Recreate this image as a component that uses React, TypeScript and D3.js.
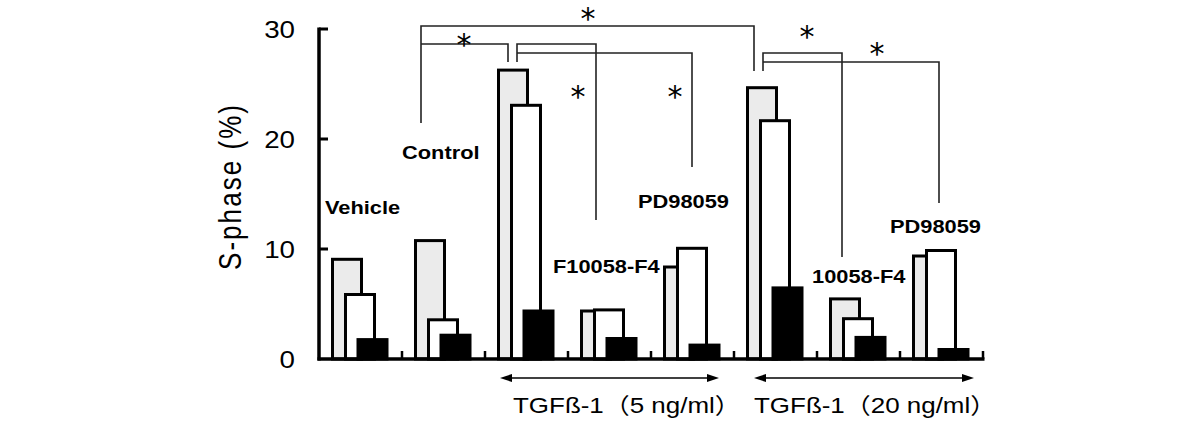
import React from "react";
import * as d3 from "d3";

// ---- data ----
const groups = ["Vehicle", "Control", "TGF5", "F10058-F4 (5)", "PD98059 (5)", "TGF20", "10058-F4 (20)", "PD98059 (20)"];
const seriesGray = [9.2, 10.9, 26.4, 4.5, 8.5, 24.8, 5.6, 9.5];
const seriesWhite = [6.0, 3.7, 23.2, 4.6, 10.2, 21.8, 3.8, 10.0];
const seriesBlack = [1.9, 2.3, 4.5, 2.0, 1.4, 6.6, 2.1, 1.0];
const yTicks = [0, 10, 20, 30];
const yTickLabels = ["0", "10", "20", "30"];
const yTitle = "S-phase (%)";
const groupLabels = ["Vehicle", "Control", "F10058-F4", "PD98059", "10058-F4", "PD98059"];
const groupLabelIndex = [0, 1, 3, 4, 6, 7];
const treatmentLabels = ["TGFß-1（5 ng/ml）", "TGFß-1（20 ng/ml）"];
const star = "*";

// ---- layout ----
const W = 1200, H = 428;
const x0 = 319, x1 = 983, yTop = 29, yBase = 359;
const SX = 1.18;
const ARIAL = "'Liberation Sans', Arial, 'Noto Sans CJK JP', sans-serif";

const xScale = d3.scaleBand<number>().domain(d3.range(groups.length)).range([x0, x1]).paddingInner(0).paddingOuter(0);
const yScale = d3.scaleLinear().domain([0, 30]).range([yBase, yTop]);

const barOffsets = [12, 25, 37.5];
const barW = 32;
const barStroke = 3;
const fills = ["#ebebeb", "#ffffff", "#000000"];

// annotation layout (label offset from band start, baseline value)
const labelPos = [
  { dx: 6, v: 13.2 },
  { dx: 0, v: 18.2 },
  { dx: -15, v: 7.85 },
  { dx: -13, v: 13.75 },
  { dx: -5, v: 6.9 },
  { dx: -10, v: 11.45 },
];

function STxt(props: any) {
  const { x, y, anchor = "start", size, weight = "normal", family = ARIAL, children, len } = props;
  return (
    <text
      transform={`translate(${x},${y}) scale(${SX},1)`}
      textAnchor={anchor}
      fontSize={size}
      fontWeight={weight}
      fontFamily={family}
      fill="#000"
      textLength={len}
      lengthAdjust={len ? "spacing" : undefined}
    >
      {children}
    </text>
  );
}

export default function App() {
  const bx = (i: number) => xScale(i) as number;
  const Y = (v: number) => yScale(v);

  // brackets (significance)
  const bracketStroke = "#222";
  const brackets = [
    `M${bx(1) + 19},${Y(21.45)} V${Y(30.27)} H${bx(5) + 20} V${Y(26.18)}`,
    `M${bx(1) + 19},${Y(28.64)} H${bx(2) + 23} V${Y(27.0)}`,
    `M${bx(2) + 32},${Y(27.0)} V${Y(28.64)} H${bx(3) + 28} V${Y(12.64)}`,
    `M${bx(2) + 32},${Y(27.82)} H${bx(4) + 41} V${Y(17.45)}`,
    `M${bx(5) + 29},${Y(26.18)} V${Y(27.82)} H${bx(6) + 25} V${Y(9.27)}`,
    `M${bx(5) + 29},${Y(27.0)} H${bx(7) + 39} V${Y(14.18)}`,
  ];
  const stars = [
    { x: bx(3) + 20, y: 12 },
    { x: bx(1) + 62, y: 38 },
    { x: bx(3) + 10, y: 90 },
    { x: bx(4) + 24, y: 90 },
    { x: bx(6) - 10, y: 30 },
    { x: bx(7) - 23, y: 47 },
  ];

  const arrows = [
    { a: bx(2) + 15, b: bx(4) + 68, tx: bx(2) + 28 },
    { a: bx(5) + 20, b: bx(7) + 74, tx: bx(5) + 20 },
  ];
  const arrowY = 378;

  const series = [seriesGray, seriesWhite, seriesBlack];

  return (
    <svg width={W} height={H} style={{ position: "absolute", left: 0, top: 0, background: "#fff" }}>
      <rect x={0} y={0} width={W} height={H} fill="#fff" />

      {/* bars */}
      {groups.map((g, i) => (
        <g key={g}>
          {series.map((s, k) => {
            const left = bx(i) + barOffsets[k];
            const top = Y(s[i]);
            return (
              <rect
                key={k}
                x={left + barStroke / 2}
                y={top + barStroke / 2}
                width={barW - barStroke}
                height={yBase - top - barStroke / 2}
                fill={fills[k]}
                stroke="#000"
                strokeWidth={barStroke}
              />
            );
          })}
        </g>
      ))}

      {/* axes */}
      <line x1={x0} x2={x0} y1={yTop - 1.5} y2={yBase + 1.5} stroke="#000" strokeWidth={3.5} />
      <line x1={x0 - 1.5} x2={x1 + 1.5} y1={yBase} y2={yBase} stroke="#000" strokeWidth={3.3} />
      {yTicks.filter((t) => t > 0).map((t) => (
        <line key={t} x1={x0} x2={x0 + 9} y1={Y(t)} y2={Y(t)} stroke="#000" strokeWidth={3} />
      ))}
      {d3.range(1, groups.length + 1).map((i) => {
        const xx = i < groups.length ? bx(i) : x1;
        return <line key={i} x1={xx} x2={xx} y1={yBase} y2={yBase - 8} stroke="#000" strokeWidth={2.5} />;
      })}
      {yTicks.map((t, i) => (
        <STxt key={t} x={295} y={Y(t) + 8.5} anchor="end" size={23.5}>
          {yTickLabels[i]}
        </STxt>
      ))}
      <text
        transform={`translate(241,187.5) scale(${SX},1) rotate(-90)`}
        textAnchor="middle"
        fontSize={26}
        fontFamily={ARIAL}
        textLength={165}
        lengthAdjust="spacing"
      >
        {yTitle}
      </text>

      {/* group labels */}
      {groupLabels.map((lab, j) => (
        <STxt key={j} x={bx(groupLabelIndex[j]) + labelPos[j].dx} y={Y(labelPos[j].v)} size={18.5} weight="bold">
          {lab}
        </STxt>
      ))}

      {/* significance brackets */}
      {brackets.map((d, i) => (
        <path key={i} d={d} fill="none" stroke={bracketStroke} strokeWidth={1.6} />
      ))}
      {stars.map((s, i) => (
        <text key={i} x={s.x} y={s.y + 17} textAnchor="middle" fontSize={30} fontFamily="'DejaVu Sans', sans-serif" fill="#000">
          {star}
        </text>
      ))}

      {/* treatment arrows */}
      {arrows.map((a, i) => (
        <g key={i}>
          <line x1={a.a + 6} x2={a.b - 6} y1={arrowY} y2={arrowY} stroke="#000" strokeWidth={1.5} />
          <polygon points={`${a.a},${arrowY} ${a.a + 12},${arrowY - 4} ${a.a + 12},${arrowY + 4}`} fill="#000" />
          <polygon points={`${a.b},${arrowY} ${a.b - 12},${arrowY - 4} ${a.b - 12},${arrowY + 4}`} fill="#000" />
          <STxt x={a.tx} y={413} size={22}>
            {treatmentLabels[i]}
          </STxt>
        </g>
      ))}
    </svg>
  );
}
